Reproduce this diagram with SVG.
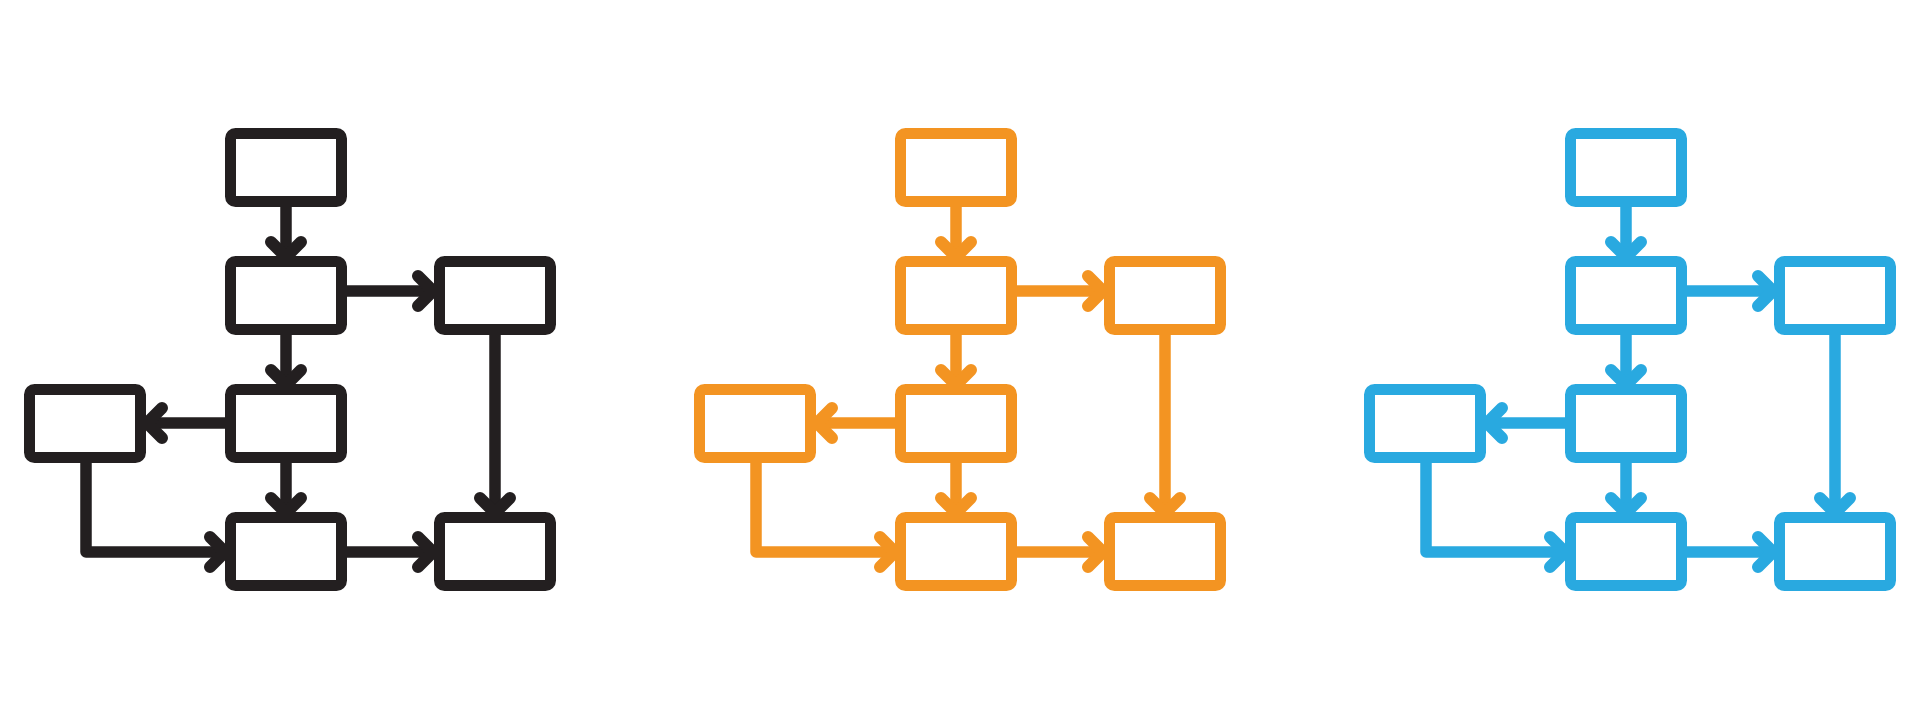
<svg xmlns="http://www.w3.org/2000/svg" width="1920" height="720" viewBox="0 0 1920 720">
<style>
.box{fill:none;stroke-width:11;stroke-linejoin:round}
.con{fill:none;stroke-width:11.5;stroke-linejoin:round;stroke-linecap:butt}
.head{fill:none;stroke-width:12;stroke-linejoin:round;stroke-linecap:round}
.k{stroke:#231f20}
.o{stroke:#f39422}
.b{stroke:#29a9e0}
</style>
<rect width="1920" height="720" fill="#ffffff"/>

<g id="icon-black" class="k">
  <g id="k-connectors">
    <path class="con" d="M286,207 V257"/><path class="head" d="M271,242 L286,257 L301,242"/>
    <path class="con" d="M347,291 H433"/><path class="head" d="M418,276 L433,291 L418,306"/>
    <path class="con" d="M286,335 V385"/><path class="head" d="M271,370 L286,385 L301,370"/>
    <path class="con" d="M225,423 H147"/><path class="head" d="M162,408 L147,423 L162,438"/>
    <path class="con" d="M286,463 V513"/><path class="head" d="M271,498 L286,513 L301,498"/>
    <path class="con" d="M86,463 V552 H225"/><path class="head" d="M210,537 L225,552 L210,567"/>
    <path class="con" d="M347,552 H433"/><path class="head" d="M418,537 L433,552 L418,567"/>
    <path class="con" d="M495,335 V513"/><path class="head" d="M480,498 L495,513 L510,498"/>
  </g>
  <g id="k-top"><rect class="box" x="230.5" y="133.5" width="111" height="68" rx="5"/></g>
  <g id="k-mid2"><rect class="box" x="230.5" y="261.5" width="111" height="68" rx="5"/></g>
  <g id="k-right2"><rect class="box" x="439.5" y="261.5" width="111" height="68" rx="5"/></g>
  <g id="k-left3"><rect class="box" x="29.5" y="389.5" width="111" height="68" rx="5"/></g>
  <g id="k-mid3"><rect class="box" x="230.5" y="389.5" width="111" height="68" rx="5"/></g>
  <g id="k-mid4"><rect class="box" x="230.5" y="517.5" width="111" height="68" rx="5"/></g>
  <g id="k-right4"><rect class="box" x="439.5" y="517.5" width="111" height="68" rx="5"/></g>
</g>

<g id="icon-orange" class="o" transform="translate(670,0)">
  <g id="o-connectors">
    <path class="con" d="M286,207 V257"/><path class="head" d="M271,242 L286,257 L301,242"/>
    <path class="con" d="M347,291 H433"/><path class="head" d="M418,276 L433,291 L418,306"/>
    <path class="con" d="M286,335 V385"/><path class="head" d="M271,370 L286,385 L301,370"/>
    <path class="con" d="M225,423 H147"/><path class="head" d="M162,408 L147,423 L162,438"/>
    <path class="con" d="M286,463 V513"/><path class="head" d="M271,498 L286,513 L301,498"/>
    <path class="con" d="M86,463 V552 H225"/><path class="head" d="M210,537 L225,552 L210,567"/>
    <path class="con" d="M347,552 H433"/><path class="head" d="M418,537 L433,552 L418,567"/>
    <path class="con" d="M495,335 V513"/><path class="head" d="M480,498 L495,513 L510,498"/>
  </g>
  <g id="o-top"><rect class="box" x="230.5" y="133.5" width="111" height="68" rx="5"/></g>
  <g id="o-mid2"><rect class="box" x="230.5" y="261.5" width="111" height="68" rx="5"/></g>
  <g id="o-right2"><rect class="box" x="439.5" y="261.5" width="111" height="68" rx="5"/></g>
  <g id="o-left3"><rect class="box" x="29.5" y="389.5" width="111" height="68" rx="5"/></g>
  <g id="o-mid3"><rect class="box" x="230.5" y="389.5" width="111" height="68" rx="5"/></g>
  <g id="o-mid4"><rect class="box" x="230.5" y="517.5" width="111" height="68" rx="5"/></g>
  <g id="o-right4"><rect class="box" x="439.5" y="517.5" width="111" height="68" rx="5"/></g>
</g>

<g id="icon-blue" class="b" transform="translate(1340,0)">
  <g id="b-connectors">
    <path class="con" d="M286,207 V257"/><path class="head" d="M271,242 L286,257 L301,242"/>
    <path class="con" d="M347,291 H433"/><path class="head" d="M418,276 L433,291 L418,306"/>
    <path class="con" d="M286,335 V385"/><path class="head" d="M271,370 L286,385 L301,370"/>
    <path class="con" d="M225,423 H147"/><path class="head" d="M162,408 L147,423 L162,438"/>
    <path class="con" d="M286,463 V513"/><path class="head" d="M271,498 L286,513 L301,498"/>
    <path class="con" d="M86,463 V552 H225"/><path class="head" d="M210,537 L225,552 L210,567"/>
    <path class="con" d="M347,552 H433"/><path class="head" d="M418,537 L433,552 L418,567"/>
    <path class="con" d="M495,335 V513"/><path class="head" d="M480,498 L495,513 L510,498"/>
  </g>
  <g id="b-top"><rect class="box" x="230.5" y="133.5" width="111" height="68" rx="5"/></g>
  <g id="b-mid2"><rect class="box" x="230.5" y="261.5" width="111" height="68" rx="5"/></g>
  <g id="b-right2"><rect class="box" x="439.5" y="261.5" width="111" height="68" rx="5"/></g>
  <g id="b-left3"><rect class="box" x="29.5" y="389.5" width="111" height="68" rx="5"/></g>
  <g id="b-mid3"><rect class="box" x="230.5" y="389.5" width="111" height="68" rx="5"/></g>
  <g id="b-mid4"><rect class="box" x="230.5" y="517.5" width="111" height="68" rx="5"/></g>
  <g id="b-right4"><rect class="box" x="439.5" y="517.5" width="111" height="68" rx="5"/></g>
</g>
</svg>
